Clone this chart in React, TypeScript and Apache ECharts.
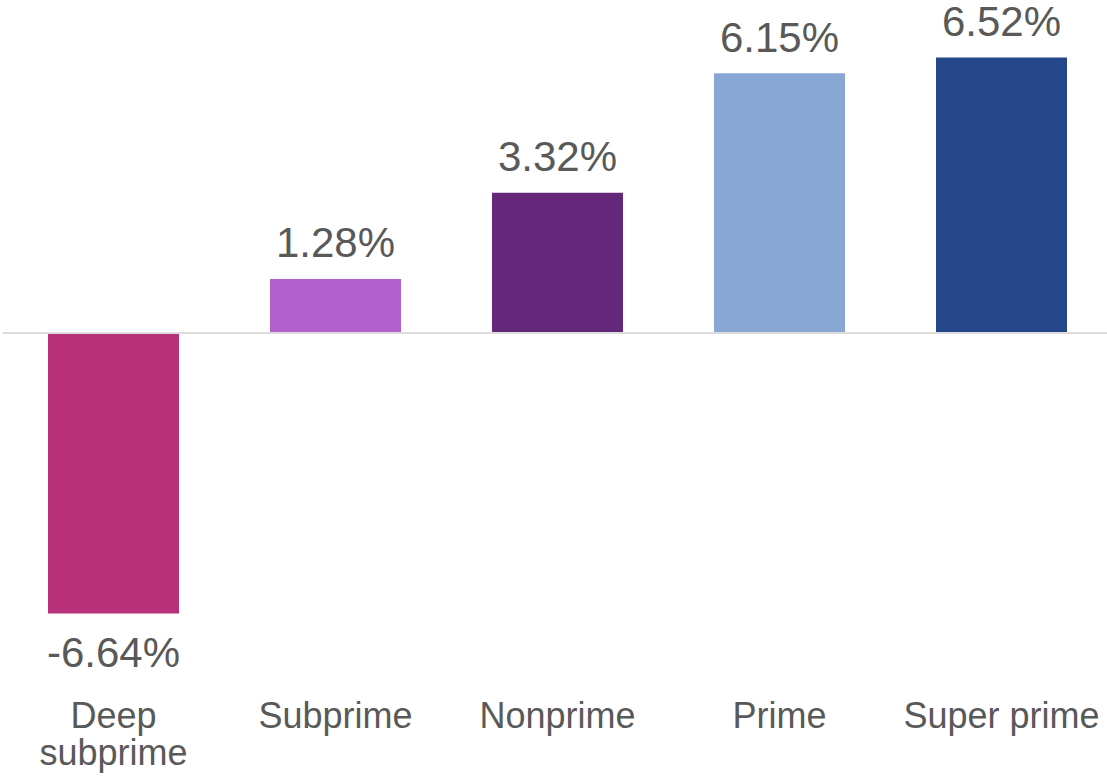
import React, { useEffect, useRef } from "react";
import * as echarts from "echarts";

const categories = ["Deep\nsubprime", "Subprime", "Nonprime", "Prime", "Super prime"];
const values = [-6.64, 1.28, 3.32, 6.15, 6.52];
const colors = ["#B8307A", "#B160CE", "#652779", "#88A7D5", "#24478C"];

export default function App() {
  const ref = useRef<HTMLDivElement>(null);
  useEffect(() => {
    if (!ref.current) return;
    const chart = echarts.init(ref.current, null, { renderer: "svg" });
    const font = "'Liberation Sans', Arial, sans-serif";
    chart.setOption({
      animation: false,
      grid: { left: 2.5, right: 0.5, top: 37.25, bottom: 148.25, containLabel: false },
      xAxis: {
        type: "category",
        data: categories,
        axisLine: { show: false },
        axisTick: { show: false },
        axisLabel: {
          color: "#595959",
          fontFamily: font,
          fontSize: 36,
          lineHeight: 37,
          margin: 68,
          interval: 0,
        },
      },
      yAxis: {
        type: "value",
        min: -7,
        max: 7,
        show: false,
        splitLine: { show: false },
      },
      series: [
        {
          type: "bar",
          barWidth: 131,
          data: values.map((v, i) => ({
            value: v,
            itemStyle: { color: colors[i] },
            label: {
              show: true,
              position: v < 0 ? "bottom" : "top",
              distance: v < 0 ? 20 : 17,
              formatter: (p: any) => p.value.toFixed(2) + "%",
              color: "#595959",
              fontFamily: font,
              fontSize: 42,
              lineHeight: 38,
            },
          })),
          markLine: {
            silent: true,
            symbol: "none",
            label: { show: false },
            lineStyle: { color: "#DDDDDD", width: 2, type: "solid" },
            data: [{ yAxis: 0 }],
          },
        },
      ],
    });
    return () => chart.dispose();
  }, []);
  return (
    <div
      style={{ position: "fixed", left: 0, top: 0, width: 1107, height: 777, overflow: "hidden", background: "#fff" }}
    >
      <div ref={ref} style={{ width: 1113, height: 777 }} />
    </div>
  );
}
